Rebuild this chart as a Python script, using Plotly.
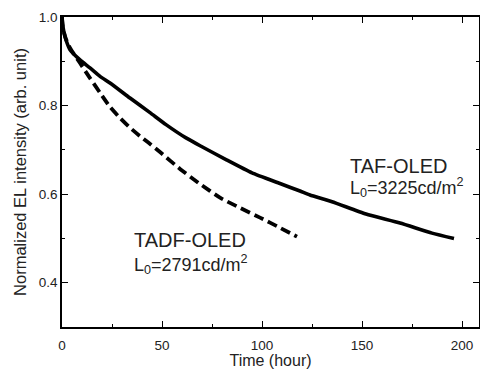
import plotly.graph_objects as go

# TAF-OLED (solid)
taf_t = [0, 0.3, 1, 2, 4, 9, 14, 19, 24, 34, 44, 52, 62, 70, 82, 95, 109, 119, 124, 135, 152, 169, 185, 196]
taf_v = [1.0, 0.985, 0.965, 0.948, 0.926, 0.903, 0.885, 0.866, 0.851, 0.817, 0.784, 0.757, 0.727, 0.707,
         0.678, 0.648, 0.624, 0.607, 0.598, 0.583, 0.555, 0.535, 0.512, 0.50]

# TADF-OLED (dashed)
tadf_t = [0, 0.3, 1, 2, 4, 9, 14, 19, 24, 29, 34, 39, 43, 49, 59, 69, 79, 89, 99, 109, 117.5]
tadf_v = [1.0, 0.98, 0.965, 0.95, 0.93, 0.896, 0.862, 0.829, 0.797, 0.772, 0.75, 0.731, 0.717, 0.695,
          0.657, 0.623, 0.592, 0.569, 0.547, 0.524, 0.504]

x_ticks = [0, 50, 100, 150, 200]
y_ticks = [0.4, 0.6, 0.8, 1.0]
y_labels = ["0.4", "0.6", "0.8", "1.0"]

FONT = "Liberation Sans, Arial, sans-serif"
TXT = "#222222"

fig = go.Figure()
fig.add_trace(go.Scatter(x=taf_t, y=taf_v, mode="lines",
                         line=dict(color="black", width=3.6, shape="spline", smoothing=0.5),
                         showlegend=False, hoverinfo="skip"))
fig.add_trace(go.Scatter(x=tadf_t, y=tadf_v, mode="lines",
                         line=dict(color="black", width=3.8, dash="10px,5px", shape="spline", smoothing=0.5),
                         showlegend=False, hoverinfo="skip"))

fig.add_annotation(x=143, y=0.664, text="TAF-OLED", showarrow=False, xanchor="left", yanchor="middle",
                   font=dict(family=FONT, size=20, color=TXT))
fig.add_annotation(x=143, y=0.614, text="L<sub>0</sub>=3225cd/m<sup>2</sup>", showarrow=False, xanchor="left",
                   yanchor="middle", font=dict(family=FONT, size=18, color=TXT))
fig.add_annotation(x=35, y=0.497, text="TADF-OLED", showarrow=False, xanchor="left", yanchor="middle",
                   font=dict(family=FONT, size=20, color=TXT))
fig.add_annotation(x=35, y=0.441, text="L<sub>0</sub>=2791cd/m<sup>2</sup>", showarrow=False, xanchor="left",
                   yanchor="middle", font=dict(family=FONT, size=18, color=TXT))

axis_common = dict(showgrid=False, zeroline=False, showline=True, linecolor="black", linewidth=1.5,
                   mirror="allticks", ticks="inside", ticklen=6, tickwidth=1.2, tickcolor="black",
                   automargin=False,
                   tickfont=dict(family=FONT, size=13.5, color=TXT))

fig.update_xaxes(range=[0, 208.5], tickvals=x_ticks, ticktext=[str(v) for v in x_ticks],
                 ticklabelstandoff=5,
                 minor=dict(ticks="inside", ticklen=3.5, tickwidth=1.2, tickcolor="black", dtick=25, tick0=0),
                 title=dict(text="Time (hour)", font=dict(family=FONT, size=16, color=TXT), standoff=8),
                 **axis_common)
fig.update_yaxes(range=[0.3, 1.0], tickvals=y_ticks, ticktext=y_labels,
                 minor=dict(ticks="inside", ticklen=3.5, tickwidth=1.2, tickcolor="black", dtick=0.1, tick0=0.3),
                 title=dict(text="Normalized EL intensity (arb. unit)", font=dict(family=FONT, size=16.5, color=TXT),
                            standoff=8),
                 **axis_common)

fig.update_layout(width=480, height=369, margin=dict(l=62, r=1, t=17, b=42),
                  plot_bgcolor="white", paper_bgcolor="white", hovermode=False)

fig.write_html("out.html", config={"displayModeBar": False},
               post_script="document.body.style.margin='0';document.body.style.overflow='hidden';")
